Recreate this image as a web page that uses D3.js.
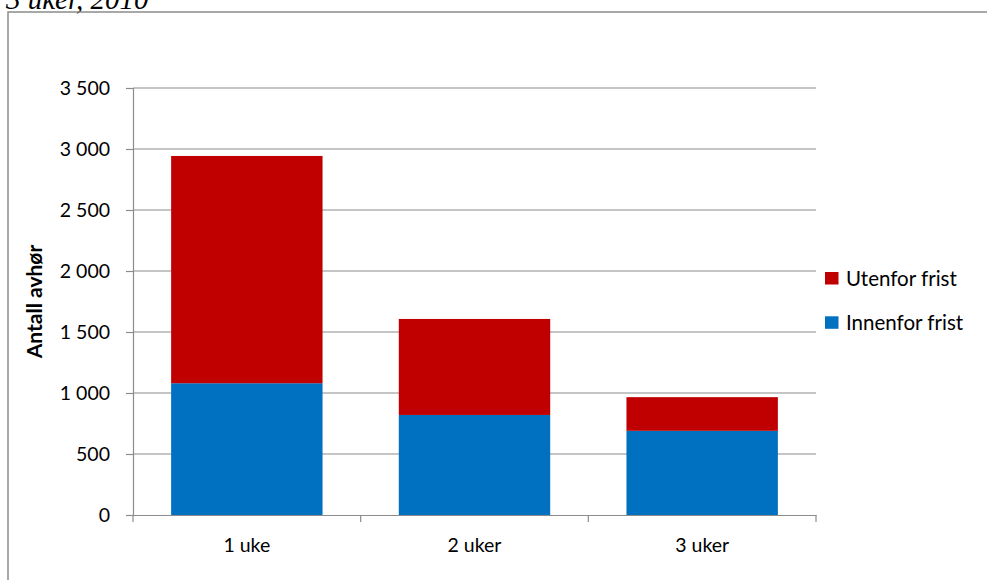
<!DOCTYPE html>
<html><head><meta charset="utf-8">
<script src="https://cdn.jsdelivr.net/npm/d3@7"></script>
<style>body{margin:0;background:#fff;}svg{display:block;}</style>
</head><body>
<svg id="c" width="987" height="580"></svg>
<script>
const categories = ["1 uke", "2 uker", "3 uker"];
const innenfor = [1080, 820, 690];
const utenfor = [1863, 787, 276];
const seriesNames = ["Innenfor frist", "Utenfor frist"];
const seriesColors = ["#0070C0", "#C00000"];
const yTicks = [0, 500, 1000, 1500, 2000, 2500, 3000, 3500];

const svg = d3.select("#c");
const font = "Lato, 'Open Sans', sans-serif";

// outer frame and clipped title
svg.append("text").attr("x", 6).attr("y", 9)
  .attr("font-family", "'Liberation Serif', 'DejaVu Serif', serif")
  .attr("font-style", "italic").attr("font-size", 29).attr("fill", "#000")
  .text("3 uker, 2010");
svg.append("path").attr("d", "M8,590 L8,12 L990,12")
  .attr("fill", "none").attr("stroke", "#8c8c8c").attr("stroke-width", 1.5);

const m = {left: 133, right: 816, top: 88, bottom: 515};
const x = d3.scaleBand().domain(categories).range([m.left, m.right]).paddingInner(0.335).paddingOuter(0.1675);
const y = d3.scaleLinear().domain([0, 3500]).range([m.bottom, m.top]);

// gridlines
svg.append("g").selectAll("line").data(yTicks.filter(d => d > 0)).join("line")
  .attr("x1", m.left).attr("x2", m.right)
  .attr("y1", d => y(d)).attr("y2", d => y(d))
  .attr("stroke", "#8c8c8c").attr("stroke-width", 1.2);

// stacked data
const rows = categories.map((c, i) => ({cat: c, "Innenfor frist": innenfor[i], "Utenfor frist": utenfor[i]}));
const stack = d3.stack().keys(seriesNames)(rows);
svg.append("g").selectAll("g").data(stack).join("g")
  .attr("fill", (d, i) => seriesColors[i])
  .selectAll("rect").data(d => d).join("rect")
  .attr("x", d => x(d.data.cat)).attr("width", x.bandwidth())
  .attr("y", d => y(d[1])).attr("height", d => y(d[0]) - y(d[1]));

// y axis
const yAxis = d3.axisLeft(y).tickValues(yTicks).tickSize(7).tickPadding(16)
  .tickFormat(d => d3.format(",")(d).replace(/,/g, " "));
const ga = svg.append("g").attr("transform", `translate(${m.left},0)`).call(yAxis);
ga.select(".domain").attr("stroke", "#8c8c8c").attr("stroke-width", 1.2);
ga.selectAll(".tick line").attr("stroke", "#8c8c8c").attr("stroke-width", 1.2);
ga.selectAll("text").attr("font-family", font).attr("font-size", 19.5).attr("fill", "#000");

// x axis
const gx = svg.append("g").attr("transform", `translate(0,${m.bottom})`)
  .call(d3.axisBottom(x).tickSize(0).tickPadding(23));
gx.select(".domain").attr("stroke", "#8c8c8c").attr("stroke-width", 1.2);
gx.selectAll("text").attr("font-family", font).attr("font-size", 19.5).attr("fill", "#000");
const step = x.step();
const bounds = [m.left].concat(categories.map((c, i) => m.left + step * (i + 1)));
gx.selectAll(".sep").data(bounds).join("line").attr("class", "sep")
  .attr("x1", d => d).attr("x2", d => d).attr("y1", 0).attr("y2", 7)
  .attr("stroke", "#8c8c8c").attr("stroke-width", 1.2);

// y title
svg.append("text").attr("transform", `translate(42,${(m.top + m.bottom) / 2}) rotate(-90)`)
  .attr("text-anchor", "middle").attr("font-family", font).attr("font-weight", "bold")
  .attr("font-size", 21).text("Antall avhør");

// legend
const legend = [{name: "Utenfor frist", color: seriesColors[1]}, {name: "Innenfor frist", color: seriesColors[0]}];
const lg = svg.append("g").selectAll("g").data(legend).join("g")
  .attr("transform", (d, i) => `translate(825,${272 + i * 44.3})`);
lg.append("rect").attr("width", 13.5).attr("height", 12.5).attr("fill", d => d.color);
lg.append("text").attr("x", 21).attr("y", 13.5).attr("font-family", font)
  .attr("font-size", 20.5).attr("fill", "#000").text(d => d.name);
</script>
</body></html>
